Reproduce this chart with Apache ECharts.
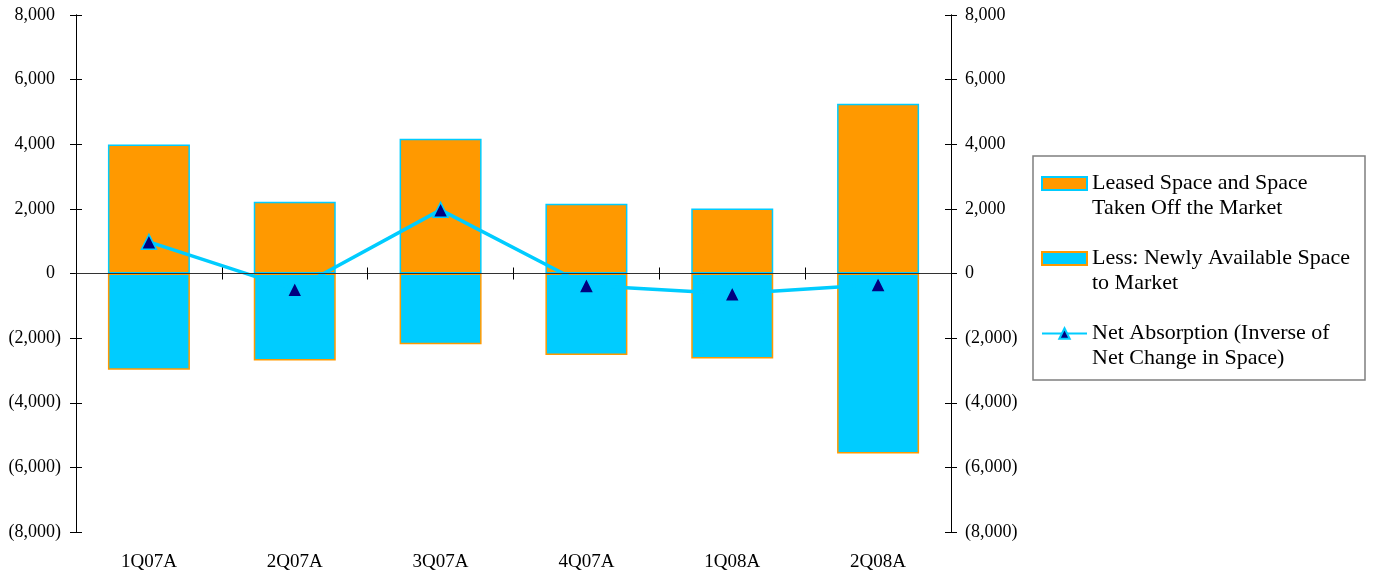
<!DOCTYPE html>
<html>
<head>
<meta charset="utf-8">
<script src="https://cdn.jsdelivr.net/npm/echarts@6/dist/echarts.min.js"></script>
<style>
html,body{margin:0;padding:0;background:#fff;}
#chart{width:1374px;height:573px;}
</style>
</head>
<body>
<div id="chart"></div>
<script>
const categories = ['1Q07A', '2Q07A', '3Q07A', '4Q07A', '1Q08A', '2Q08A'];
const leasedSpace = [3990, 2220, 4170, 2160, 2010, 5250];
const newlyAvailable = [-2980, -2690, -2190, -2525, -2630, -5570];
const netAbsorption = [980, -490, 1970, -370, -630, -340];
const seriesNames = [
  'Leased Space and Space\nTaken Off the Market',
  'Less: Newly Available Space\nto Market',
  'Net Absorption (Inverse of\nNet Change in Space)'
];
const yMin = -8000, yMax = 8000, yStep = 2000;

const FONT = 'Liberation Serif';
const ORANGE = '#FF9900';
const CYAN = '#00CCFF';
const NAVY = '#000080';

function numText(v) {
  const s = Math.abs(v).toLocaleString('en-US');
  return v < 0 ? '(' + s + ')' : s;
}

function yAxisBase(pos, tickInside, showLabels) {
  return {
    type: 'value', position: pos, min: yMin, max: yMax, interval: yStep,
    splitLine: { show: false },
    axisLine: { show: true, lineStyle: { color: '#000', width: 1 } },
    axisTick: { show: true, inside: tickInside, length: 6, lineStyle: { color: '#000', width: 1 } },
    axisLabel: { show: showLabels }
  };
}

const yLeft = yAxisBase('left', false, true);
yLeft.axisLabel = {
  show: true, margin: 15, color: '#000', fontFamily: FONT, fontSize: 18,
  formatter: v => v < 0 ? numText(v) : '{p|' + numText(v) + '}',
  rich: { p: { fontFamily: FONT, fontSize: 18, color: '#000', padding: [0, 6, 0, 0] } }
};
const yLeftIn = yAxisBase('left', true, false);
const yRight = yAxisBase('right', false, true);
yRight.axisLabel = { show: true, margin: 14, color: '#000', fontFamily: FONT, fontSize: 18, formatter: v => numText(v) };
const yRightIn = yAxisBase('right', true, false);

function xZero(inside) {
  return {
    type: 'category', data: categories, position: 'bottom', boundaryGap: true, z: 5,
    axisLine: { show: true, onZero: true, lineStyle: { color: '#333', width: 1 } },
    axisTick: { show: true, inside: inside, length: 6, lineStyle: { color: '#000', width: 1 } },
    axisLabel: { show: false }
  };
}

const option = {
  animation: false,
  backgroundColor: '#fff',
  grid: { left: 76, right: 423, top: 15, bottom: 41, containLabel: false },
  xAxis: [
    {
      type: 'category', data: categories, position: 'bottom', boundaryGap: true,
      axisLine: { show: false, onZero: false }, axisTick: { show: false },
      axisLabel: { show: true, margin: 21, color: '#000', fontFamily: FONT, fontSize: 19 }
    },
    xZero(false),
    xZero(true)
  ],
  yAxis: [yLeft, yLeftIn, yRight, yRightIn],
  legend: {
    orient: 'vertical', left: 1041, top: 148, padding: 0,
    itemWidth: 45, itemHeight: 13, itemGap: 4,
    data: [
      { name: seriesNames[0], icon: 'rect' },
      { name: seriesNames[1], icon: 'rect' },
      { name: seriesNames[2] }
    ],
    formatter: name => name.split('\n').map(s => '{t|' + s + '}').join('\n'),
    textStyle: {
      fontFamily: FONT, fontSize: 22, color: '#000', lineHeight: 24.5,
      rich: { t: { fontFamily: FONT, fontSize: 22, color: '#000', lineHeight: 24.5, padding: [24.5, 0, 0, 0] } }
    }
  },
  graphic: [{
    type: 'rect', silent: true,
    shape: { x: 1033, y: 156, width: 332, height: 224 },
    style: { fill: 'none', stroke: '#7f7f7f', lineWidth: 1.5 }
  }],
  series: [
    {
      name: seriesNames[0], type: 'bar', stack: 'space', data: leasedSpace,
      barWidth: 82,
      itemStyle: { color: ORANGE, borderColor: CYAN, borderWidth: 1.5 }
    },
    {
      name: seriesNames[1], type: 'bar', stack: 'space', data: newlyAvailable,
      barWidth: 82,
      itemStyle: { color: CYAN, borderColor: ORANGE, borderWidth: 1.5 }
    },
    {
      name: seriesNames[2], type: 'line', data: netAbsorption,
      symbol: 'triangle', symbolSize: 15, showAllSymbol: true,
      lineStyle: { color: CYAN, width: 3.5 },
      itemStyle: { color: NAVY, borderColor: CYAN, borderWidth: 1.5 }
    }
  ]
};

const chart = echarts.init(document.getElementById('chart'), null, { renderer: 'canvas' });
chart.setOption(option);
</script>
</body>
</html>
